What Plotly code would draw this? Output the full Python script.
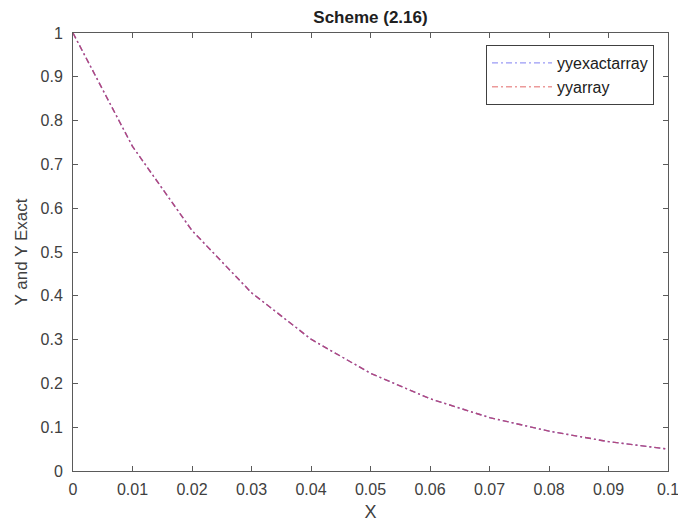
import plotly.graph_objects as go

x_vals = [0, 0.01, 0.02, 0.03, 0.04, 0.05, 0.06, 0.07, 0.08, 0.09, 0.1]
yyexactarray = [1.0, 0.741, 0.549, 0.407, 0.301, 0.223, 0.165, 0.122, 0.091, 0.067, 0.050]
yyarray = [1.0, 0.741, 0.549, 0.407, 0.301, 0.223, 0.165, 0.122, 0.091, 0.067, 0.050]

x_ticks = [0, 0.01, 0.02, 0.03, 0.04, 0.05, 0.06, 0.07, 0.08, 0.09, 0.1]
x_tick_labels = ["0", "0.01", "0.02", "0.03", "0.04", "0.05", "0.06", "0.07", "0.08", "0.09", "0.1"]
y_ticks = [0, 0.1, 0.2, 0.3, 0.4, 0.5, 0.6, 0.7, 0.8, 0.9, 1]
y_tick_labels = ["0", "0.1", "0.2", "0.3", "0.4", "0.5", "0.6", "0.7", "0.8", "0.9", "1"]

FONT = "Liberation Sans, Arial, sans-serif"
dash = "6px,3px,2px,3px"

W, H = 678, 525
L, R, T, B = 73, 10, 33, 54

fig = go.Figure()
fig.add_trace(go.Scatter(x=x_vals, y=yyexactarray, mode="lines", name="yyexactarray",
                         showlegend=False, legendgroup="a",
                         line=dict(color="#6a6ae6", width=1.4, dash=dash)))
fig.add_trace(go.Scatter(x=x_vals, y=yyarray, mode="lines", name="yyarray",
                         showlegend=False, legendgroup="b",
                         line=dict(color="#c8405e", width=1.4, dash=dash), opacity=0.8))
# legend entries (lighter, as in the reference legend)
fig.add_trace(go.Scatter(x=[None], y=[None], mode="lines", name="yyexactarray", legendgroup="a",
                         line=dict(color="#9a9af5", width=1.4, dash=dash)))
fig.add_trace(go.Scatter(x=[None], y=[None], mode="lines", name="yyarray", legendgroup="b",
                         line=dict(color="#ec9a9a", width=1.4, dash=dash)))

axis_common = dict(showline=True, linecolor="#5a5a5a", linewidth=1, mirror="ticks",
                   ticks="inside", ticklen=5, tickcolor="#5a5a5a", showgrid=False, zeroline=False,
                   automargin=False, ticklabeloverflow="allow",
                   tickfont=dict(family=FONT, size=16, color="#404040"))

fig.update_layout(
    width=W, height=H,
    margin=dict(l=L, r=R, t=T, b=B),
    paper_bgcolor="white", plot_bgcolor="white",
    title=dict(text="<b>Scheme (2.16)</b>", x=(L + W - R) / 2 / W, xanchor="center",
               y=1 - 17 / H, yanchor="middle",
               font=dict(family=FONT, size=17, color="#202020")),
    xaxis=dict(range=[0, 0.1], tickvals=x_ticks, ticktext=x_tick_labels, ticklabelstandoff=4,
               title=dict(text="X", font=dict(family=FONT, size=18, color="#404040"), standoff=8),
               **axis_common),
    yaxis=dict(range=[0, 1], tickvals=y_ticks, ticktext=y_tick_labels, ticklabelstandoff=6,
               title=dict(text="Y and Y Exact", font=dict(family=FONT, size=17, color="#404040"), standoff=8),
               **axis_common),
    legend=dict(x=(654 - L) / (W - L - R), y=1 - (45 - T) / (H - T - B), xanchor="right", yanchor="top",
                bordercolor="#404040", borderwidth=1, bgcolor="white",
                font=dict(family=FONT, size=16, color="#202020"),
                tracegroupgap=0, itemwidth=60),
    showlegend=True,
)

fig.write_html("out.html", config={"displayModeBar": False},
               post_script="document.body.style.margin='0';")
